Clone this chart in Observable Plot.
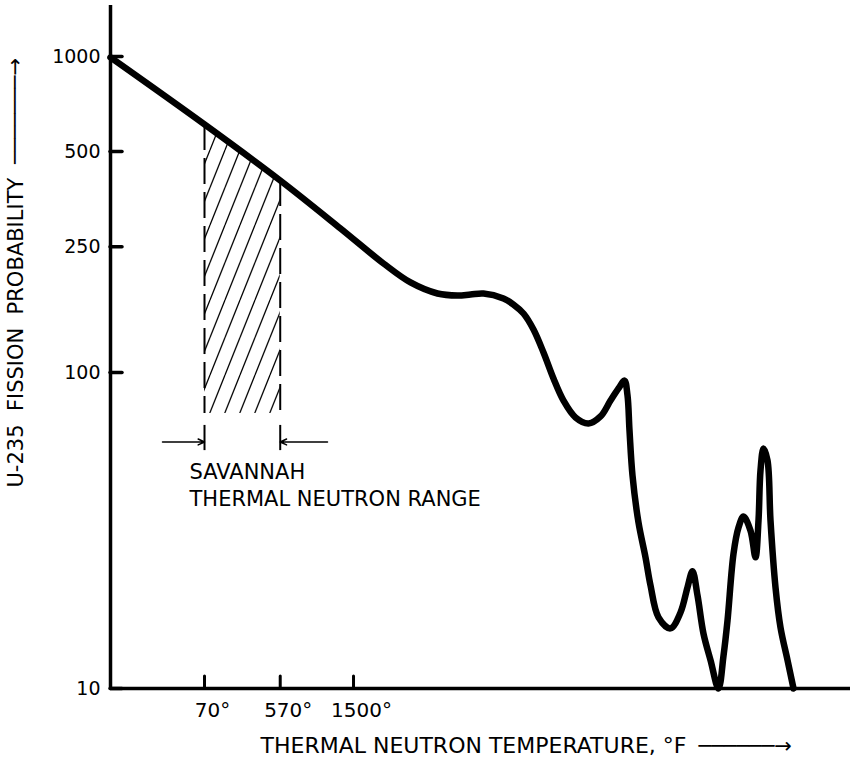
<!DOCTYPE html>
<html>
<head>
<meta charset="utf-8">
<script src="https://cdn.jsdelivr.net/npm/d3@7"></script>
<script src="https://cdn.jsdelivr.net/npm/@observablehq/plot@0.6"></script>
<style>body{margin:0;background:#fff}</style>
</head>
<body>
<div id="chart"></div>
<script>
// Absolute temperature (degrees Rankine = °F + 459.67), log-spaced axis as in the original
const tempR = [232.04, 529.67, 1029.67, 1748.1, 2549.9, 3232.0, 4096.6, 4882.9, 5473.2, 6135.0,
  7312.7, 7983.6, 8716.5, 9516.2, 10389.5, 11342.7, 12383.7, 13759.6, 15423.2, 17136.8, 18709.5,
  20070.8, 21156.7, 21721.1, 22105.8, 22696.0, 23923.3, 25439.8, 26581.5, 28515.6, 31684.0,
  34591.5, 36783.9, 38434.5, 40159.2, 42331.6, 45015.2, 48290.2, 50457.2, 52260.9, 55087.3,
  57560.0, 60142.8, 63954.8, 66825.1, 68608.8, 69824.2, 71687.0, 74249.3, 76231.3, 79652.4,
  83226.8, 88502.3, 93289.6];
// U-235 fission probability
const fissionProb = [993, 609.4, 405.1, 285.6, 221.3, 192.7, 177.8, 175.2, 176.5, 177.8,
  171.5, 164.1, 153.7, 136.8, 115.7, 95.7, 81.5, 72.1, 69.0, 72.6, 81.5,
  89.0, 94.3, 84.6, 65.5, 47.2, 33.5, 26.0, 21.2, 16.8, 15.5,
  17.4, 20.9, 23.5, 19.7, 14.9, 12.3, 10, 12.7, 16.4, 26.7,
  32.3, 35.0, 31.6, 26.0, 34.0, 49.0, 57.5, 52.7, 34.0, 20.9,
  15.6, 12.3, 10];

const yTickValues = [10, 100, 250, 500, 1000];
const xTickLabelsF = [70, 570, 1500];
const savannahRangeF = [70, 570];
const savannahTopProb = [609.4, 405.1];
const hatchBottomProb = 74.2;
const bracketProb = [56.6, 68.0];
const arrowProb = 60.27;
const arrowOuterR = [366.3, 1559.5];
const annotationProb = 53;

const xDomain = [232.04, 153870];
const yDomain = [10, 1450];

const R0 = 459.67;
const curve = tempR.map((r, i) => ({r, p: fissionProb[i]}));
const rangeR = savannahRangeF.map(f => f + R0);
const hatch = curve.filter(d => d.r >= rangeR[0] - 0.01 && d.r <= rangeR[1] + 0.01);
const edges = rangeR.map((r, i) => ({r, top: savannahTopProb[i]}));
const arrows = [
  {x1: arrowOuterR[0], x2: rangeR[0]},
  {x1: arrowOuterR[1], x2: rangeR[1]}
];
const xTickR = xTickLabelsF.map(f => f + R0);

const yTitle = "U-235  FISSION  PROBABILITY";
const xTitle = "THERMAL NEUTRON TEMPERATURE, °F";
const xArrowGlyph = "──────→";
const yArrowGlyph = "───────→";
const note = "SAVANNAH\nTHERMAL NEUTRON RANGE";

const chart = Plot.plot({
  width: 856,
  height: 768,
  marginLeft: 110,
  marginRight: 6,
  marginTop: 5,
  marginBottom: 80,
  x: {type: "log", domain: xDomain, axis: null},
  y: {type: "log", domain: yDomain, axis: null},
  style: {fontFamily: "DejaVu Sans", fontSize: "18px", color: "black", background: "white", overflow: "visible"},
  marks: [
    Plot.areaY(hatch, {x: "r", y1: hatchBottomProb, y2: "p", fill: "url(#hatch)"}),
    Plot.ruleX(edges, {x: "r", y1: "top", y2: hatchBottomProb, stroke: "black", strokeWidth: 2, strokeDasharray: "26,8"}),
    Plot.ruleX(edges, {x: "r", y1: bracketProb[1], y2: bracketProb[0], stroke: "black", strokeWidth: 2}),
    Plot.arrow(arrows, {x1: "x1", x2: "x2", y1: arrowProb, y2: arrowProb, stroke: "black", strokeWidth: 1.5, headLength: 7, headAngle: 50}),
    Plot.text([note], {x: rangeR[0], y: annotationProb, dx: -15, textAnchor: "start", lineAnchor: "top", lineHeight: 1.3, fontSize: 21}),
    Plot.ruleX([xDomain[0]], {stroke: "black", strokeWidth: 3.5}),
    Plot.ruleY([yDomain[0]], {stroke: "black", strokeWidth: 3.5}),
    Plot.line(curve, {x: "r", y: "p", curve: "catmull-rom", stroke: "black", strokeWidth: 6.5, strokeLinejoin: "round", strokeLinecap: "round"}),
    Plot.axisY({ticks: yTickValues, tickSize: -12, tickPadding: 22, strokeWidth: 3.5, strokeLinecap: "round", fontSize: 19, tickFormat: d => String(d), label: null}),
    Plot.axisX({ticks: xTickR, tickSize: -12, strokeWidth: 3, strokeLinecap: "round", fill: "none", label: null}),
    Plot.text(xTickR, {x: d => d, text: d => `${Math.round(d - R0)}°`, frameAnchor: "bottom", dy: 28, dx: 8, fontSize: 20}),
    Plot.text([xTitle], {frameAnchor: "bottom-left", dx: 150, dy: 64, textAnchor: "start", fontSize: 22}),
    Plot.text([xArrowGlyph], {frameAnchor: "bottom-left", dx: 588, dy: 64, textAnchor: "start", fontSize: 21}),
    Plot.text([yTitle], {frameAnchor: "left", dx: -94.5, dy: 140.5, rotate: -90, textAnchor: "start", fontSize: 21}),
    Plot.text([yArrowGlyph], {frameAnchor: "left", dx: -95.5, dy: -183, rotate: -90, textAnchor: "start", fontSize: 21})
  ]
});

const defs = d3.select(chart).insert("defs", ":first-child");
const pat = defs.append("pattern")
  .attr("id", "hatch")
  .attr("patternUnits", "userSpaceOnUse")
  .attr("width", 15)
  .attr("height", 37.5);
pat.append("path")
  .attr("d", "M0,37.5L15,0M-15,37.5L0,0M15,37.5L30,0")
  .attr("stroke", "black")
  .attr("stroke-width", 1.3)
  .attr("fill", "none");

document.getElementById("chart").appendChild(chart);
</script>
</body>
</html>
